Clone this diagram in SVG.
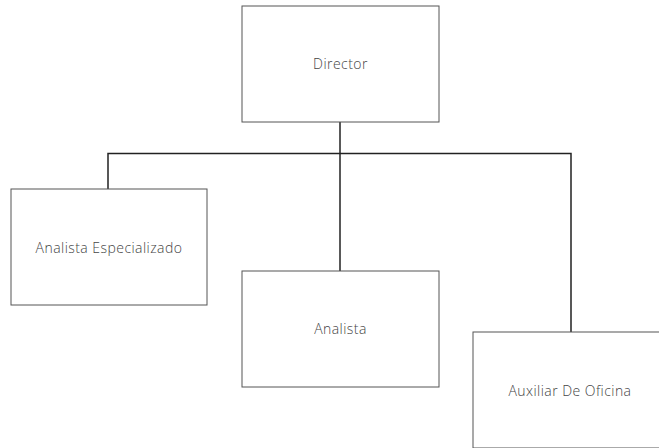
<svg xmlns="http://www.w3.org/2000/svg" width="659" height="448" viewBox="0 0 659 448">
<style>
.box{fill:#ffffff;stroke:#555555;stroke-width:1}
.lbl{font-family:"Open Sans","Liberation Sans",sans-serif;font-size:14px;font-weight:300;letter-spacing:0.45px;fill:#444444;text-anchor:middle;dominant-baseline:central}
.conn{fill:none;stroke:#222222;stroke-width:1.5}
</style>
<rect width="659" height="448" fill="#ffffff"/>
<g id="connectors">
<path class="conn" d="M340,122 V271"/>
<path class="conn" d="M108,189 V153.5 H571 V332"/>
</g>
<g id="director">
<rect class="box" x="242" y="6" width="197" height="116"/>
<text class="lbl" x="340.5" y="63">Director</text>
</g>
<g id="analista-especializado">
<rect class="box" x="11" y="189" width="196" height="116"/>
<text class="lbl" x="109" y="247">Analista Especializado</text>
</g>
<g id="analista">
<rect class="box" x="242" y="271" width="197" height="116"/>
<text class="lbl" x="340.5" y="328">Analista</text>
</g>
<g id="auxiliar-de-oficina">
<rect class="box" x="473" y="332" width="196" height="116"/>
<text class="lbl" x="570" y="390">Auxiliar De Oficina</text>
</g>
</svg>
